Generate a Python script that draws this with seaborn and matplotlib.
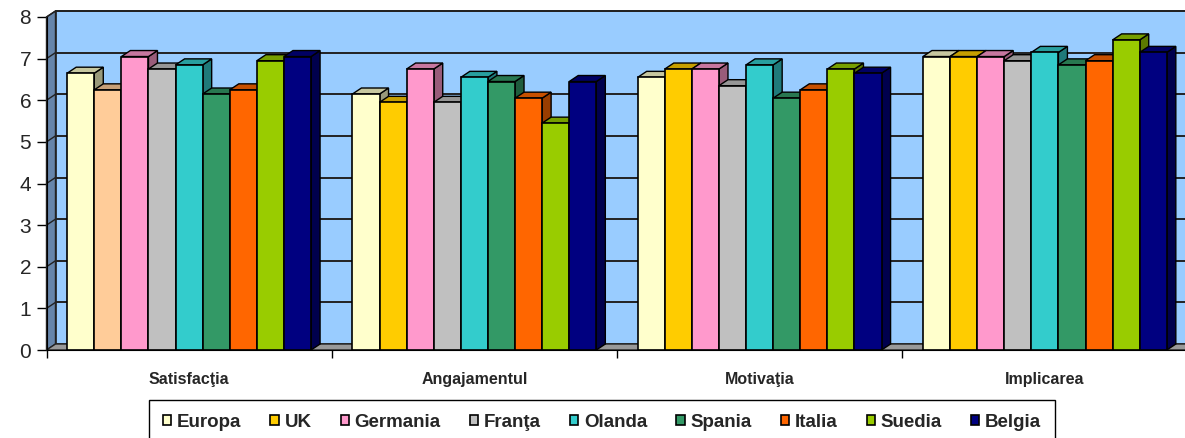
import numpy as np
import pandas as pd
import matplotlib
matplotlib.use("Agg")
import matplotlib.pyplot as plt
import matplotlib.colors as mcolors
from matplotlib.patches import Polygon, Patch
import seaborn as sns

# data
categories = ["Satisfacţia", "Angajamentul", "Motivaţia", "Implicarea"]
countries = ["Europa", "UK", "Germania", "Franţa", "Olanda", "Spania", "Italia", "Suedia", "Belgia"]

europa = [6.65, 6.15, 6.55, 7.05]
uk = [6.25, 5.95, 6.75, 7.05]
germania = [7.05, 6.75, 6.75, 7.05]
franta = [6.75, 5.95, 6.35, 6.95]
olanda = [6.85, 6.55, 6.85, 7.15]
spania = [6.15, 6.45, 6.05, 6.85]
italia = [6.25, 6.05, 6.25, 6.95]
suedia = [6.95, 5.45, 6.75, 7.45]
belgia = [7.05, 6.45, 6.65, 7.15]

colors = ["#FFFFCC", "#FFCC00", "#FF99CC", "#C0C0C0", "#33CCCC",
          "#339966", "#FF6600", "#99CC00", "#000080"]
uk_first_color = "#FFCC99"  # UK bar in the first group is peach in the original

y_ticks = list(range(0, 9))

W, H = 1185, 438


def shade(c, f):
    r, g, b = mcolors.to_rgb(c)
    return (r * f, g * f, b * f)


def main():
    sns.set_style("white")
    plt.rcParams['font.family'] = ['Liberation Sans', 'DejaVu Sans']

    values = [europa, uk, germania, franta, olanda, spania, italia, suedia, belgia]
    rows = []
    for country, vals in zip(countries, values):
        for cat, v in zip(categories, vals):
            rows.append({"category": cat, "country": country, "value": v})
    df = pd.DataFrame(rows)

    fig = plt.figure(figsize=(W / 100, H / 100), dpi=100)
    left_px, right_px, bottom_px, top_px = 46.5, 1187.5, 350, 17
    ax = fig.add_axes([left_px / W, (H - bottom_px) / H,
                       (right_px - left_px) / W, (bottom_px - top_px) / H])
    ax.set_facecolor("none")

    sns.barplot(data=df, x="category", y="value", hue="country",
                order=categories, hue_order=countries, palette=colors,
                width=0.855, saturation=1, edgecolor="black", linewidth=1.2,
                legend=False, errorbar=None, ax=ax)

    ax.set_xlim(-0.5, 3.5)
    ax.set_ylim(0, 8)

    # 3d depth offset in data units
    sx = (right_px - left_px) / 4.0
    sy = (bottom_px - top_px) / 8.0
    dx, dy = 9 / sx, 6 / sy
    x0, x1 = -0.5, 3.5

    # back wall, side wall, floor
    ax.add_patch(Polygon([(x0 + dx, dy), (x1 + dx, dy), (x1 + dx, 8 + dy), (x0 + dx, 8 + dy)],
                         closed=True, facecolor="#99CCFF", edgecolor="#222222", lw=1.2,
                         zorder=0.5, clip_on=False))
    ax.add_patch(Polygon([(x0, 0), (x0 + dx, dy), (x0 + dx, 8 + dy), (x0, 8)],
                         closed=True, facecolor="#6685AA", edgecolor="#222222", lw=1.0,
                         zorder=0.6, clip_on=False))
    for v in y_ticks[1:]:
        ax.plot([x0 + dx, x1 + dx], [v + dy, v + dy], color="#222222", lw=1.4,
                zorder=0.7, clip_on=False)
        ax.plot([x0, x0 + dx], [v, v + dy], color="#222222", lw=1.0,
                zorder=0.7, clip_on=False)
    ax.add_patch(Polygon([(x0, 0), (x1, 0), (x1 + dx, dy), (x0 + dx, dy)],
                         closed=True, facecolor="#999999", edgecolor="#222222", lw=1.0,
                         zorder=0.8, clip_on=False))

    # recolour the odd UK bar and add top / side faces
    ax.containers[1][0].set_facecolor(uk_first_color)
    for k, container in enumerate(ax.containers):
        for rect in container:
            bx, bw, bh = rect.get_x(), rect.get_width(), rect.get_height()
            fc = rect.get_facecolor()
            rect.set_zorder(3 + 2 * k + 1)
            side = Polygon([(bx + bw, 0), (bx + bw + dx, dy), (bx + bw + dx, bh + dy), (bx + bw, bh)],
                           closed=True, facecolor=shade(fc, 0.6), edgecolor="black",
                           lw=1.0, zorder=3 + 2 * k, clip_on=False)
            top = Polygon([(bx, bh), (bx + bw, bh), (bx + bw + dx, bh + dy), (bx + dx, bh + dy)],
                          closed=True, facecolor=shade(fc, 0.78), edgecolor="black",
                          lw=1.0, zorder=3 + 2 * k, clip_on=False)
            ax.add_patch(side)
            ax.add_patch(top)

    for s in ["top", "right"]:
        ax.spines[s].set_visible(False)
    ax.spines["left"].set_color("black")
    ax.spines["bottom"].set_color("black")
    ax.spines["left"].set_zorder(30)
    ax.spines["bottom"].set_zorder(30)

    ax.set_yticks(y_ticks)
    ax.tick_params(axis="y", which="major", left=True, length=7, width=1,
                   color="black", labelsize=15, pad=4)
    ax.set_xticks(range(len(categories)))
    ax.set_xticklabels(categories, fontweight="bold", fontsize=11.5)
    ax.tick_params(axis="x", which="major", length=0, pad=16)
    ax.set_xticks([x0 + i for i in range(5)], minor=True)
    ax.tick_params(axis="x", which="minor", bottom=True, length=6, width=1, color="black")
    ax.set_xlabel("")
    ax.set_ylabel("")

    handles = [Patch(facecolor=c, edgecolor="black", lw=1.2) for c in colors]
    leg = fig.legend(handles, countries, loc="upper center",
                     bbox_to_anchor=(602 / W, 1 - 400 / H), ncol=9,
                     frameon=True, fancybox=False, edgecolor="black", framealpha=1,
                     prop={"weight": "bold", "size": 13.5}, handlelength=0.45,
                     handleheight=0.45, handletextpad=0.3, columnspacing=1.55,
                     borderpad=0.75, borderaxespad=0)
    leg.get_frame().set_linewidth(1.0)

    fig.savefig("out.png", dpi=100)
    plt.close(fig)


if __name__ == "__main__":
    main()
